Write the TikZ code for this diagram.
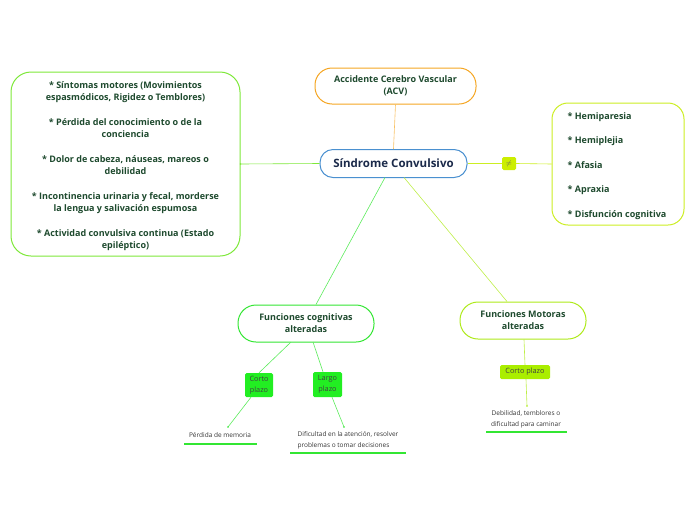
\documentclass[tikz,border=0pt]{standalone}
\usepackage{fontspec}
\setmainfont{Open Sans}
\usetikzlibrary{arrows.meta}
\definecolor{txtgreen}{HTML}{1E4A2E}
\definecolor{navy}{HTML}{1B2A4A}
\definecolor{cblue}{HTML}{4A90D0}
\definecolor{corange}{HTML}{F5A623}
\definecolor{cgreen}{HTML}{7EE83A}
\definecolor{clime}{HTML}{CCEE22}
\definecolor{cbright}{HTML}{33E633}
\definecolor{cyg}{HTML}{AEEA1A}
\definecolor{fillgreen}{HTML}{22EE22}
\definecolor{fillyg}{HTML}{AAEE00}
\definecolor{filllime}{HTML}{CCEE00}
\tikzset{
  x=1pt,y=-1pt,
  topic/.style={draw, line width=1pt, rounded corners=#1, fill=white, inner sep=0pt},
  ttext/.style={font=\fontsize{9}{12}\selectfont\bfseries, text=txtgreen, align=center},
  tag/.style={rounded corners=1.5pt, inner sep=0pt, font=\fontsize{7.3}{11}\selectfont, text=black!75, align=center},
  leaf/.style={font=\fontsize{6.5}{11}\selectfont, text=black!80, align=center, inner sep=0pt},
  link/.style={line width=0.6pt},
  uline/.style={line width=1.2pt, draw=cbright},
}
\begin{document}
\begin{tikzpicture}
\useasboundingbox (0,0) rectangle (696,520);
% main nodes
\node[topic=13pt, draw=cblue, minimum width=147pt, minimum height=28pt,
  font=\fontsize{11.5}{14}\selectfont\bfseries, text=navy] (c) at (393.5,163.5) {Síndrome Convulsivo};
\node[topic=17pt, draw=corange, minimum width=161pt, minimum height=36pt, ttext] (acv) at (395.5,86) {Accidente Cerebro Vascular\\(ACV)};
\node[topic=20pt, draw=cgreen, minimum width=229pt, minimum height=184pt] (sint) at (125.5,164) {};
\node[ttext, inner sep=0pt] (sinttxt) at (125.5,166)
 {* Síntomas motores (Movimientos\\espasmódicos, Rigidez o Temblores)\\[13pt]
  * Pérdida del conocimiento o de la\\conciencia\\[13pt]
  * Dolor de cabeza, náuseas, mareos o\\debilidad\\[13pt]
  * Incontinencia urinaria y fecal, morderse\\la lengua y salivación espumosa\\[13pt]
  * Actividad convulsiva continua (Estado\\epiléptico)};
\node[topic=16pt, draw=clime, minimum width=132pt, minimum height=122pt] (sig) at (618,164) {};
\node[font=\fontsize{9}{24.5}\selectfont\bfseries, text=txtgreen, align=left, inner sep=0pt] (sigtxt) at (617,166)
 {* Hemiparesia\\* Hemiplejia\\* Afasia\\* Apraxia\\* Disfunción cognitiva};
\node[topic=18pt, draw=cbright, minimum width=136pt, minimum height=37pt, ttext] (fc) at (306,323.5) {Funciones cognitivas\\alteradas};
\node[topic=18pt, draw=cyg, minimum width=126pt, minimum height=37pt, ttext] (fm) at (523,320.5) {Funciones Motoras\\alteradas};
% tags
\node[tag, fill=filllime, minimum width=14pt, minimum height=13pt, text=black!60] (neq) at (509,163.5) {$\neq$};
\node[tag, fill=fillgreen, minimum width=28pt, minimum height=24pt] (cp1) at (259,385) {Corto\\plazo};
\node[tag, fill=fillgreen, minimum width=29pt, minimum height=25pt] (lp) at (327.5,384.5) {Largo\\plazo};
\node[tag, fill=fillyg, minimum width=50pt, minimum height=14pt] (cp2) at (525,372) {Corto plazo};
% leaves
\node[leaf] (pm) at (220,435) {Pérdida de memoria};
\node[leaf, align=left] (dif) at (348,440) {Dificultad en la atención, resolver\\problemas o tomar decisiones};
\node[leaf] (deb) at (526,419) {Debilidad, temblores o\\dificultad para caminar};
\coordinate (pmT) at (228,427);
\coordinate (difT) at (344,427);
\coordinate (debT) at (527,406);
\draw[uline] (184,444) -- (257,444);
\draw[uline] (290,453) -- (406,453);
\draw[uline] (486,432) -- (567,432);
% connectors
\draw[link, draw=corange!70] (acv.south) -- (c.north);
\draw[link, draw=cgreen] (c.west) -- (sint.east) node[pos=1, circle, fill=cgreen, inner sep=0.7pt]{};
\draw[link, draw=clime] (c.east) -- (neq.west);
\draw[link, draw=clime] (neq.east) -- (sig.west);
\draw[link, draw=cbright!80] (385,177.5) -- (fc.north -| 316,0);
\draw[link, draw=cyg!80] (404,177.5) -- (fm.north -| 507,0);
\draw[link, draw=cbright!80] (291,342) -- (cp1.north -| 259,0);
\draw[link, draw=cbright!80] (cp1.south -| 251,0) -- (pmT) node[circle, fill=cbright, inner sep=0.6pt]{};
\draw[link, draw=cbright!80] (313,342) -- (lp.north -| 323,0);
\draw[link, draw=cbright!80] (lp.south -| 332,0) -- (difT) node[circle, fill=cbright, inner sep=0.6pt]{};
\draw[link, draw=cyg!80] (fm.south -| 524,0) -- (cp2.north -| 525,0);
\draw[link, draw=cyg!80] (cp2.south -| 526,0) -- (debT) node[circle, fill=cyg, inner sep=0.6pt]{};
\end{tikzpicture}
\end{document}
